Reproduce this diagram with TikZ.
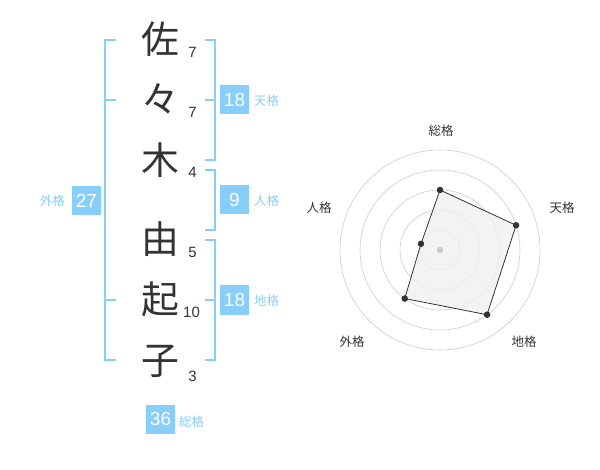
\documentclass[tikz,border=0pt]{standalone}
\usepackage{fontspec}
\setmainfont{Liberation Sans}
\newfontfamily\cjk{Noto Sans CJK JP}
\definecolor{kblue}{HTML}{87CEFA}
\definecolor{ktext}{HTML}{333333}
\definecolor{kring}{HTML}{CCCCCC}
\definecolor{kfill}{HTML}{F0F0F0}
\tikzset{
  kanji/.style={anchor=base, inner sep=0pt, text=ktext, font=\cjk\fontsize{38}{38}\selectfont},
  strokes/.style={anchor=base, inner sep=0pt, text=ktext, font=\fontsize{15}{15}\selectfont},
  valbox/.style={fill=kblue, text=white, minimum width=29bp, minimum height=29bp, inner sep=0pt, font=\fontsize{19}{19}\selectfont},
  vallabel/.style={inner sep=0pt, text=kblue, font=\cjk\fontsize{12.5}{12.5}\selectfont},
  bracket/.style={draw=kblue, line width=2bp},
  ring/.style={draw=kring, line width=0.6bp},
  radarlabel/.style={inner sep=0pt, text=ktext, font=\cjk\fontsize{12.5}{12.5}\selectfont},
  dot/.style={circle, fill=ktext, inner sep=0pt, minimum size=6.5bp},
}
\begin{document}
\begin{tikzpicture}[x=1bp, y=-1bp]
\useasboundingbox (0,0) rectangle (600,470);
% kanji
\node[kanji] (k1) at (160.5,53.5) {佐};
\node[kanji] (k2) at (160.5,114) {々};
\node[kanji] (k3) at (160.5,174.5) {木};
\node[kanji] (k4) at (160.5,254) {由};
\node[kanji] (k5) at (160.5,313.5) {起};
\node[kanji] (k6) at (160.5,374) {子};
% stroke counts
\node[strokes] (s1) at (192.5,58) {7};
\node[strokes] (s2) at (192.5,118) {7};
\node[strokes] (s3) at (192.5,178) {4};
\node[strokes] (s4) at (192.5,257.5) {5};
\node[strokes] (s5) at (191.5,317.5) {10};
\node[strokes] (s6) at (192.5,381) {3};
% brackets
\draw[bracket] (116,40) -- (105,40) -- (105,360) -- (116,360);
\draw[bracket] (105,100) -- (116,100);
\draw[bracket] (105,300) -- (116,300);
\draw[bracket] (205,40) -- (214.5,40) -- (214.5,160) -- (205,160);
\draw[bracket] (205,100) -- (214.5,100);
\draw[bracket] (205,170) -- (214.5,170) -- (214.5,230) -- (205,230);
\draw[bracket] (205,240) -- (214.5,240) -- (214.5,360) -- (205,360);
\draw[bracket] (205,300) -- (214.5,300);
% value boxes
\node[valbox] (ten) at (234.5,100) {18};
\node[vallabel, anchor=west] (tenl) at (254,100.5) {天格};
\node[valbox] (jin) at (234.5,200) {9};
\node[vallabel, anchor=west] (jinl) at (254,200.5) {人格};
\node[valbox] (chi) at (234.5,300) {18};
\node[vallabel, anchor=west] (chil) at (254,300.5) {地格};
\node[valbox] (gai) at (86.5,200.5) {27};
\node[vallabel, anchor=east] (gail) at (65,201) {外格};
\node[valbox] (sou) at (160.5,419) {36};
\node[vallabel, anchor=west] (soul) at (179,422) {総格};
% radar
\begin{scope}[shift={(440,250)}, yscale=-1]
  \foreach \r in {20,40,60,80,100} \draw[ring] (0,0) circle (\r);
  \coordinate (p1) at (90:60);
  \coordinate (p2) at (18:80);
  \coordinate (p3) at (-54:80);
  \coordinate (p4) at (-126:60);
  \coordinate (p5) at (162:20);
  \draw[draw=ktext, line width=0.8bp, fill=kfill, fill opacity=0.8] (p1) -- (p2) -- (p3) -- (p4) -- (p5) -- cycle;
  \node[circle, fill=kring, inner sep=0pt, minimum size=6.5bp] (c0) at (0,0) {};
  \foreach \p in {p1,p2,p3,p4,p5} \node[dot] at (\p) {};
  \node[radarlabel] (r1) at (1,119) {総格};
  \node[radarlabel] (r2) at (122,42) {天格};
  \node[radarlabel] (r3) at (-121,42) {人格};
  \node[radarlabel] (r4) at (84,-92) {地格};
  \node[radarlabel] (r5) at (-88,-92) {外格};
\end{scope}
\end{tikzpicture}
\end{document}
